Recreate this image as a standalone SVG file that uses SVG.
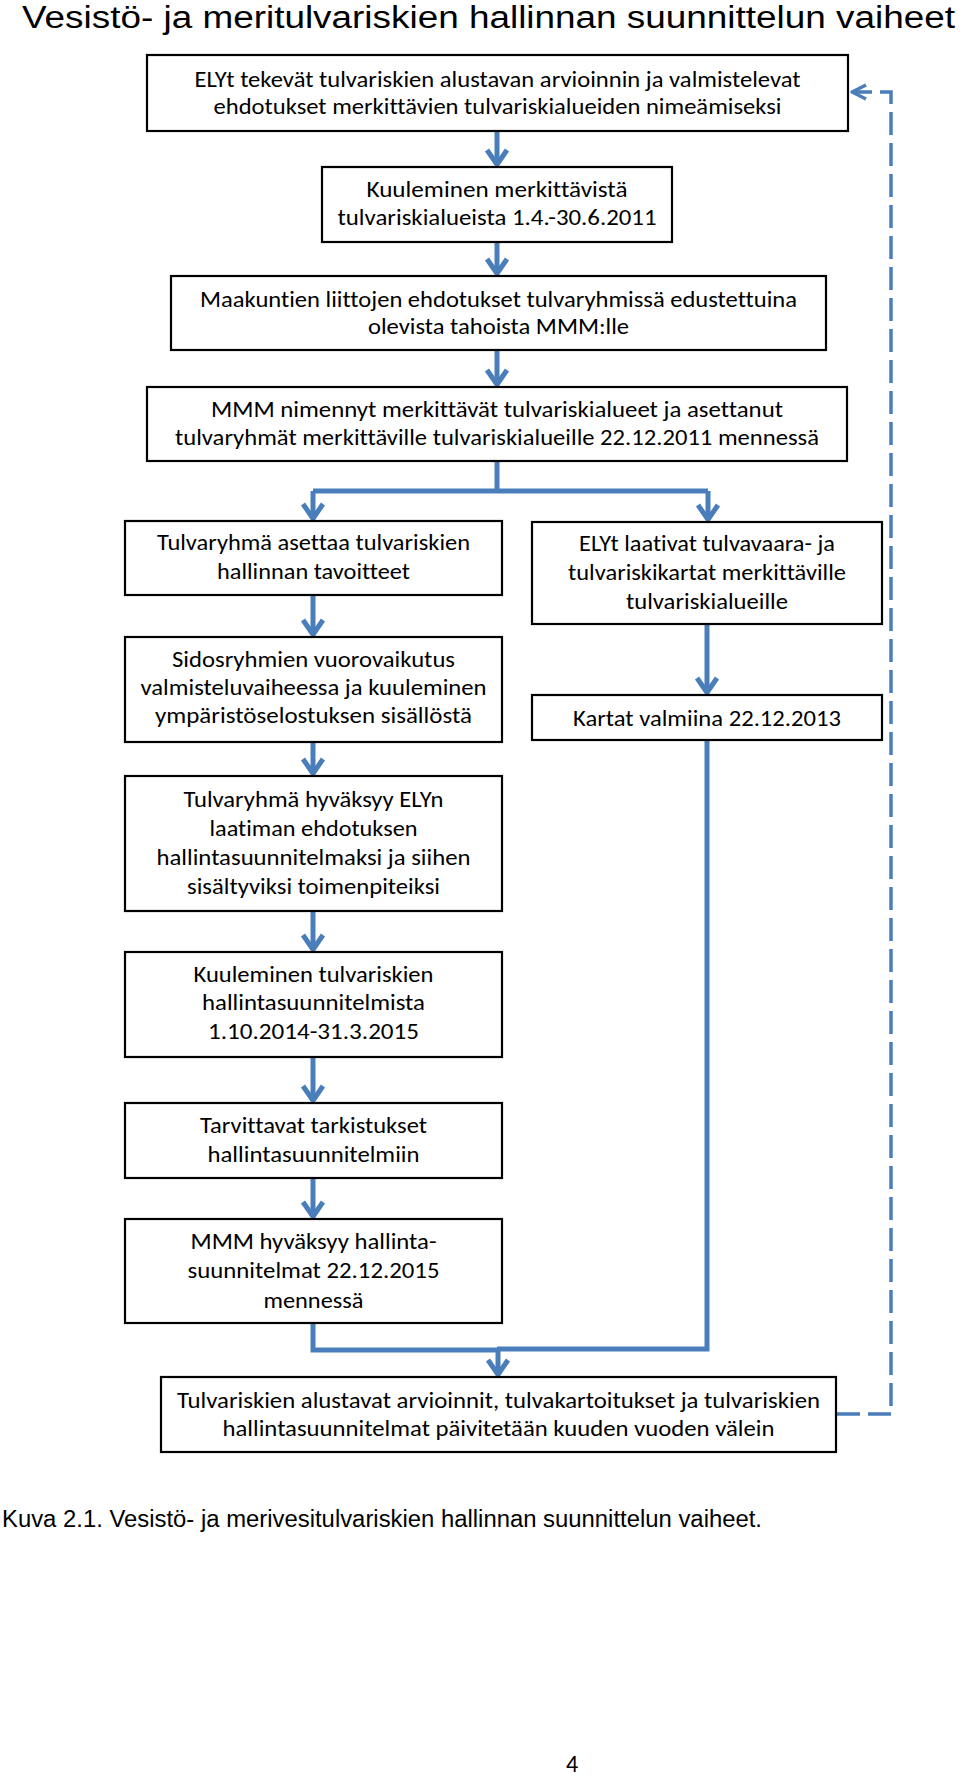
<svg xmlns="http://www.w3.org/2000/svg" width="960" height="1779" viewBox="0 0 960 1779">
<defs>
<style>
.bg{fill:#fff}
.box{fill:#fff;stroke:#000;stroke-width:2.2}
.t{font-family:Carlito,Lato,"Liberation Sans",sans-serif;font-size:21.5px;fill:#000;text-anchor:middle;font-variant-ligatures:none}
.title{font-family:"Liberation Sans Narrow","Liberation Sans",Arial,sans-serif;font-size:31px;fill:#000}
.cap{font-family:"Liberation Sans Narrow","Liberation Sans",Arial,sans-serif;font-size:23px;fill:#000}
.con{fill:none;stroke:#4a7ebb;stroke-width:5}
.dash{fill:none;stroke:#4a7ebb;stroke-width:3.5;stroke-dasharray:23 8}
</style>
<marker id="ah" markerUnits="userSpaceOnUse" orient="auto" refX="0" refY="0" markerWidth="40" markerHeight="40" viewBox="-20 -20 40 40" overflow="visible">
<path d="M-14,-10 L0.5,0 L-14,10" fill="none" stroke="#4a7ebb" stroke-width="5" stroke-linejoin="round"/>
</marker>
<marker id="ahd" markerUnits="userSpaceOnUse" orient="auto" refX="0" refY="0" markerWidth="40" markerHeight="40" viewBox="-20 -20 40 40" overflow="visible">
<path d="M-14,-7 L0,0 L-14,7" fill="none" stroke="#4a7ebb" stroke-width="3.5" stroke-linejoin="round"/>
</marker>
</defs>
<rect class="bg" x="0" y="0" width="960" height="1779"/>
<text class="title" x="22" y="28" textLength="933" lengthAdjust="spacingAndGlyphs">Vesistö- ja meritulvariskien hallinnan suunnittelun vaiheet</text>

<g id="connectors">
<path class="con" d="M497,131 V164" marker-end="url(#ah)"/>
<path class="con" d="M497,242 V273" marker-end="url(#ah)"/>
<path class="con" d="M497,350 V384" marker-end="url(#ah)"/>
<path class="con" d="M497,461 V491"/>
<path class="con" d="M313,491 H708"/>
<path class="con" d="M313,491 V518" marker-end="url(#ah)"/>
<path class="con" d="M708,491 V519" marker-end="url(#ah)"/>
<path class="con" d="M313,595 V634" marker-end="url(#ah)"/>
<path class="con" d="M313,742 V773" marker-end="url(#ah)"/>
<path class="con" d="M313,911 V949" marker-end="url(#ah)"/>
<path class="con" d="M313,1057 V1100" marker-end="url(#ah)"/>
<path class="con" d="M313,1178 V1216" marker-end="url(#ah)"/>
<path class="con" d="M707,624 V692" marker-end="url(#ah)"/>
<path class="con" d="M707,740 V1349 H497"/>
<path class="con" d="M313,1323 V1350 H499"/>
<path class="con" d="M498,1349 V1374" marker-end="url(#ah)"/>
<path class="dash" d="M837,1414 H891 V92 H852" marker-end="url(#ahd)"/>
</g>

<g id="n1">
<rect class="box" x="147" y="55" width="701" height="76"/>
<text class="t" x="497.5" y="87" textLength="606" lengthAdjust="spacingAndGlyphs">ELYt tekevät tulvariskien alustavan arvioinnin ja valmistelevat</text>
<text class="t" x="497.5" y="114" textLength="568" lengthAdjust="spacingAndGlyphs">ehdotukset merkittävien tulvariskialueiden nimeämiseksi</text>
</g>
<g id="n2">
<rect class="box" x="322" y="167" width="350" height="75"/>
<text class="t" x="497" y="197" textLength="261" lengthAdjust="spacingAndGlyphs">Kuuleminen merkittävistä</text>
<text class="t" x="497" y="225" textLength="319" lengthAdjust="spacingAndGlyphs">tulvariskialueista 1.4.-30.6.2011</text>
</g>
<g id="n3">
<rect class="box" x="171" y="276" width="655" height="74"/>
<text class="t" x="498.5" y="307" textLength="597" lengthAdjust="spacingAndGlyphs">Maakuntien liittojen ehdotukset tulvaryhmissä edustettuina</text>
<text class="t" x="498.5" y="334" textLength="261" lengthAdjust="spacingAndGlyphs">olevista tahoista MMM:lle</text>
</g>
<g id="n4">
<rect class="box" x="147" y="387" width="700" height="74"/>
<text class="t" x="497" y="417" textLength="572" lengthAdjust="spacingAndGlyphs">MMM nimennyt merkittävät tulvariskialueet ja asettanut</text>
<text class="t" x="497" y="445" textLength="644" lengthAdjust="spacingAndGlyphs">tulvaryhmät merkittäville tulvariskialueille 22.12.2011 mennessä</text>
</g>
<g id="n5">
<rect class="box" x="125" y="521" width="377" height="74"/>
<text class="t" x="313.5" y="550" textLength="313" lengthAdjust="spacingAndGlyphs">Tulvaryhmä asettaa tulvariskien</text>
<text class="t" x="313.5" y="579" textLength="193" lengthAdjust="spacingAndGlyphs">hallinnan tavoitteet</text>
</g>
<g id="n6">
<rect class="box" x="532" y="522" width="350" height="102"/>
<text class="t" x="707" y="551" textLength="256" lengthAdjust="spacingAndGlyphs">ELYt laativat tulvavaara- ja</text>
<text class="t" x="707" y="580" textLength="278" lengthAdjust="spacingAndGlyphs">tulvariskikartat merkittäville</text>
<text class="t" x="707" y="609" textLength="162" lengthAdjust="spacingAndGlyphs">tulvariskialueille</text>
</g>
<g id="n7">
<rect class="box" x="532" y="695" width="350" height="45"/>
<text class="t" x="707" y="726" textLength="268" lengthAdjust="spacingAndGlyphs">Kartat valmiina 22.12.2013</text>
</g>
<g id="n8">
<rect class="box" x="125" y="637" width="377" height="105"/>
<text class="t" x="313.5" y="667" textLength="283" lengthAdjust="spacingAndGlyphs">Sidosryhmien vuorovaikutus</text>
<text class="t" x="313.5" y="695" textLength="346" lengthAdjust="spacingAndGlyphs">valmisteluvaiheessa ja kuuleminen</text>
<text class="t" x="313.5" y="723" textLength="317" lengthAdjust="spacingAndGlyphs">ympäristöselostuksen sisällöstä</text>
</g>
<g id="n9">
<rect class="box" x="125" y="776" width="377" height="135"/>
<text class="t" x="313.5" y="807" textLength="260" lengthAdjust="spacingAndGlyphs">Tulvaryhmä hyväksyy ELYn</text>
<text class="t" x="313.5" y="836" textLength="208" lengthAdjust="spacingAndGlyphs">laatiman ehdotuksen</text>
<text class="t" x="313.5" y="865" textLength="314" lengthAdjust="spacingAndGlyphs">hallintasuunnitelmaksi ja siihen</text>
<text class="t" x="313.5" y="894" textLength="253" lengthAdjust="spacingAndGlyphs">sisältyviksi toimenpiteiksi</text>
</g>
<g id="n10">
<rect class="box" x="125" y="952" width="377" height="105"/>
<text class="t" x="313.5" y="982" textLength="240" lengthAdjust="spacingAndGlyphs">Kuuleminen tulvariskien</text>
<text class="t" x="313.5" y="1010" textLength="223" lengthAdjust="spacingAndGlyphs">hallintasuunnitelmista</text>
<text class="t" x="313.5" y="1039" textLength="211" lengthAdjust="spacingAndGlyphs">1.10.2014-31.3.2015</text>
</g>
<g id="n11">
<rect class="box" x="125" y="1103" width="377" height="75"/>
<text class="t" x="313.5" y="1133" textLength="227" lengthAdjust="spacingAndGlyphs">Tarvittavat tarkistukset</text>
<text class="t" x="313.5" y="1162" textLength="212" lengthAdjust="spacingAndGlyphs">hallintasuunnitelmiin</text>
</g>
<g id="n12">
<rect class="box" x="125" y="1219" width="377" height="104"/>
<text class="t" x="313.5" y="1249" textLength="246" lengthAdjust="spacingAndGlyphs">MMM hyväksyy hallinta-</text>
<text class="t" x="313.5" y="1278" textLength="252" lengthAdjust="spacingAndGlyphs">suunnitelmat 22.12.2015</text>
<text class="t" x="313.5" y="1308" textLength="100" lengthAdjust="spacingAndGlyphs">mennessä</text>
</g>
<g id="n13">
<rect class="box" x="161" y="1377" width="675" height="75"/>
<text class="t" x="498.5" y="1408" textLength="643" lengthAdjust="spacingAndGlyphs">Tulvariskien alustavat arvioinnit, tulvakartoitukset ja tulvariskien</text>
<text class="t" x="498.5" y="1436" textLength="552" lengthAdjust="spacingAndGlyphs">hallintasuunnitelmat päivitetään kuuden vuoden välein</text>
</g>

<text class="cap" x="2" y="1527" textLength="760" lengthAdjust="spacingAndGlyphs">Kuva 2.1. Vesistö- ja merivesitulvariskien hallinnan suunnittelun vaiheet.</text>
<text class="t" x="572" y="1772" style="font-size:24px">4</text>
</svg>
